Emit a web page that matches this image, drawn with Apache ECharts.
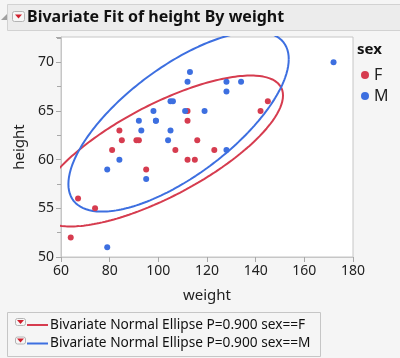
<!DOCTYPE html>
<html><head><meta charset="utf-8">
<script src="https://cdn.jsdelivr.net/npm/echarts@6/dist/echarts.min.js"></script>
<style>html,body{margin:0;padding:0;background:#f5f5f5;}#c{width:400px;height:358px;}</style>
</head><body><div id="c"></div><script>
// Big Class data: weight (x), height (y)
const weightF = [95,123,74,145,64,112,107,67,81,91,142,84,85,92,112,112,115,116];
const heightF = [59,61,55,66,52,60,61,56,61,62,65,63,62,62,64,65,60,62];
const weightM = [84,128,79,98,105,95,79,93,99,119,92,112,99,113,128,111,105,104,106,128,134,172];
const heightM = [60,61,51,65,63,58,59,63,64,65,64,68,64,69,67,65,66,62,66,68,68,70];
const groups = ['F','M'];
const ellipseNames = ['Bivariate Normal Ellipse P=0.900 sex==F','Bivariate Normal Ellipse P=0.900 sex==M'];
const xTicks = [60,80,100,120,140,160,180];
const yTicks = [50,55,60,65,70];
const P = 0.9;

const RED = '#d63c4f', BLUE = '#3d6fe0';
const COLORS = [RED, BLUE];
const FONT = '"Noto Sans", "Open Sans", sans-serif';

function ellipse(xs, ys){
  const n = xs.length;
  const mx = xs.reduce((a,b)=>a+b,0)/n, my = ys.reduce((a,b)=>a+b,0)/n;
  let sxx=0, syy=0, sxy=0;
  for(let i=0;i<n;i++){const dx=xs[i]-mx, dy=ys[i]-my; sxx+=dx*dx; syy+=dy*dy; sxy+=dx*dy;}
  sxx/=(n-1); syy/=(n-1); sxy/=(n-1);
  const sx=Math.sqrt(sxx), sy=Math.sqrt(syy), r=sxy/(sx*sy);
  const k=Math.sqrt(-2*Math.log(1-P));
  const pts=[];
  for(let i=0;i<=240;i++){
    const t=2*Math.PI*i/240;
    pts.push([mx+k*sx*Math.cos(t), my+k*sy*(r*Math.cos(t)+Math.sqrt(1-r*r)*Math.sin(t))]);
  }
  return pts;
}
const zip=(a,b)=>a.map((v,i)=>[v,b[i]]);

const chart = echarts.init(document.getElementById('c'), null, {renderer:'canvas'});
const dropIcon = (x,y,w,h)=>[
  {type:'rect', shape:{x:x,y:y,width:w,height:h,r:2}, style:{fill:'#f6f6f6', stroke:'#b4b4b4', lineWidth:1}},
  {type:'polygon', shape:{points:[[x+w/2-3.5,y+h/2-2],[x+w/2+3.5,y+h/2-2],[x+w/2,y+h/2+2]]}, style:{fill:'#d0202e'}}
];
const bottomLegend = [];
ellipseNames.forEach((nm,i)=>{
  const cy = 325 + i*18.5;
  bottomLegend.push(...dropIcon(15.5, cy-6.5, 10, 7));
  bottomLegend.push({type:'line', shape:{x1:27, y1:cy, x2:48, y2:cy}, style:{stroke:COLORS[i], lineWidth:2}});
  bottomLegend.push({type:'text', x:50, y:cy, style:{text:nm, font:'13.7px '+FONT, fill:'#111', verticalAlign:'middle'}});
});
chart.setOption({
  backgroundColor:'#f5f5f5',
  animation:false,
  textStyle:{fontFamily:FONT},
  grid:{left:61, top:37, width:292, height:220, show:true, backgroundColor:'#ffffff', borderColor:'#c6c6c6', borderWidth:1},
  xAxis:{type:'value', min:60, max:180, interval:20,
    name:'weight', nameLocation:'middle', nameGap:31, nameTextStyle:{fontSize:15, color:'#222', fontFamily:FONT},
    axisLine:{show:true, lineStyle:{color:'#c6c6c6'}},
    axisTick:{show:true, length:5, lineStyle:{color:'#a8a8a8'}},
    axisLabel:{fontSize:14, color:'#222', margin:7, fontFamily:FONT, showMinLabel:true, showMaxLabel:true, hideOverlap:false},
    splitLine:{show:false}},
  yAxis:{type:'value', min:50, max:72.6, interval:5,
    name:'height', nameLocation:'middle', nameGap:32, nameTextStyle:{fontSize:15, color:'#222', fontFamily:FONT},
    axisLine:{show:true, lineStyle:{color:'#c6c6c6'}},
    axisTick:{show:true, length:5, lineStyle:{color:'#a8a8a8'}},
    minorTick:{show:true, splitNumber:2, length:4, lineStyle:{color:'#a8a8a8'}},
    axisLabel:{fontSize:14, color:'#222', margin:7, fontFamily:FONT, showMaxLabel:false,
      formatter:v=> (yTicks.indexOf(v)>=0 ? String(v) : '')},
    splitLine:{show:false}},
  legend:[
    {orient:'vertical', left:356, top:62, data:groups, icon:'circle', itemWidth:8, itemHeight:8, itemGap:5,
      textStyle:{fontSize:16, color:'#222', fontFamily:FONT, lineHeight:16}, selectedMode:false}
  ],
  graphic:[
    {type:'rect', shape:{x:7.5,y:4.5,width:400,height:26}, style:{fill:'#ececec', stroke:'#d2d2d2'}},
    {type:'polygon', shape:{points:[[1,20],[7,14],[7,20]]}, style:{fill:'#a0a0a0'}},
    ...dropIcon(12.5,11.5,12,10),
    {type:'text', x:27, y:17, style:{text:'Bivariate Fit of height By weight', font:'bold 16px '+FONT, fill:'#111', verticalAlign:'middle'}},
    {type:'text', x:357, y:50, style:{text:'sex', font:'bold 15px '+FONT, fill:'#111', verticalAlign:'middle'}},
    {type:'rect', shape:{x:7.5,y:312.5,width:313,height:44}, style:{fill:'none', stroke:'#c6c6c6'}},
    ...bottomLegend
  ],
  series:[
    {name:ellipseNames[0], type:'line', data:ellipse(weightF,heightF), showSymbol:false, symbol:'none', smooth:false, clip:true,
      lineStyle:{color:RED, width:2}, itemStyle:{color:RED}, z:2},
    {name:ellipseNames[1], type:'line', data:ellipse(weightM,heightM), showSymbol:false, symbol:'none', smooth:false, clip:true,
      lineStyle:{color:BLUE, width:2}, itemStyle:{color:BLUE}, z:2},
    {name:'F', type:'scatter', data:zip(weightF,heightF), symbolSize:6, itemStyle:{color:RED, opacity:1}, z:3},
    {name:'M', type:'scatter', data:zip(weightM,heightM), symbolSize:6, itemStyle:{color:BLUE, opacity:1}, z:3}
  ]
});
</script></body></html>
